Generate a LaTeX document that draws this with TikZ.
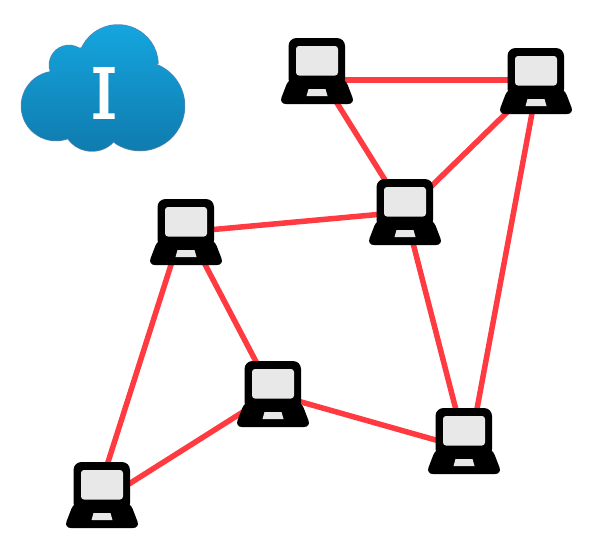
\documentclass[tikz,border=0pt]{standalone}
\usepackage{fontspec}
\newfontfamily\slabfont[FakeBold=3]{DejaVu Serif}
\definecolor{linkred}{HTML}{FF3A40}
\definecolor{cloudedge}{HTML}{5285B5}
\definecolor{cloudtop}{HTML}{15A7E0}
\definecolor{cloudbot}{HTML}{0F7BAE}
\definecolor{screen}{HTML}{E8E8E8}
\tikzset{
  link/.style={draw=linkred,line width=5.5pt},
  laptop/.pic={
    \fill[black,rounded corners=8pt] (-28.5,-33) rectangle (28,16);
    \fill[black,rounded corners=7pt] (-28,7) -- (28,7) -- (38,33) -- (-38,33) -- cycle;
    \fill[screen,rounded corners=3pt] (-21,-25) rectangle (21,4.5);
    \fill[screen] (-8.5,18) -- (8.5,18) -- (10.5,25) -- (-10.5,25) -- cycle;
  }
}
\def\lobe#1#2#3#4#5{-- ([shift={(#1,#2)}]#4:#3) arc[start angle=#4,end angle=#5,radius=#3]}
\def\cloudshape{
  ([shift={(118,65)}]205:40) arc[start angle=205,end angle=357,radius=40]
  \lobe{140}{106}{44.5}{-70.6}{123}
  \lobe{92}{121.5}{29.5}{42.5}{145.5}
  \lobe{56}{106}{34.5}{71}{261}
  \lobe{69}{65}{19.5}{162}{302}
  -- cycle
}
\begin{document}
\begin{tikzpicture}[x=1pt,y=-1pt]
\useasboundingbox (0,0) rectangle (596,550);
\coordinate (L1) at (317,71);
\coordinate (L2) at (536,81);
\coordinate (L3) at (405,212);
\coordinate (L4) at (186,232);
\coordinate (L5) at (273,394);
\coordinate (L6) at (464,441);
\coordinate (L7) at (102,495);
% connectors
\draw[link] ([shift={(0,9)}]L1) -- ([shift={(0,-1)}]L2);
\draw[link] (L1) -- (L3);
\draw[link] ([shift={(2,1)}]L2) -- (L3);
\draw[link] ([shift={(2,0)}]L2) -- ([shift={(7,0)}]L6);
\draw[link] (L3) -- (L6);
\draw[link] (L3) -- (L4);
\draw[link] ([shift={(2,0)}]L4) -- (L5);
\draw[link] ([shift={(-4.5,0)}]L4) -- ([shift={(-4.5,0)}]L7);
\draw[link] (L5) -- ([shift={(0,7)}]L6);
\draw[link] ([shift={(0,-1)}]L5) -- ([shift={(0,6)}]L7);
% laptops
\foreach \n in {L1,L2,L3,L4,L5,L6,L7} \pic at (\n) {laptop};
% cloud
\draw[cloudedge,line width=1.5pt,fill=cloudedge] \cloudshape;
\shade[top color=cloudtop,bottom color=cloudbot] \cloudshape;
\node[text=white,inner sep=0pt,font=\slabfont\fontsize{68}{68}\selectfont] (cloudmark) at (104,93) {I};
\end{tikzpicture}
\end{document}
